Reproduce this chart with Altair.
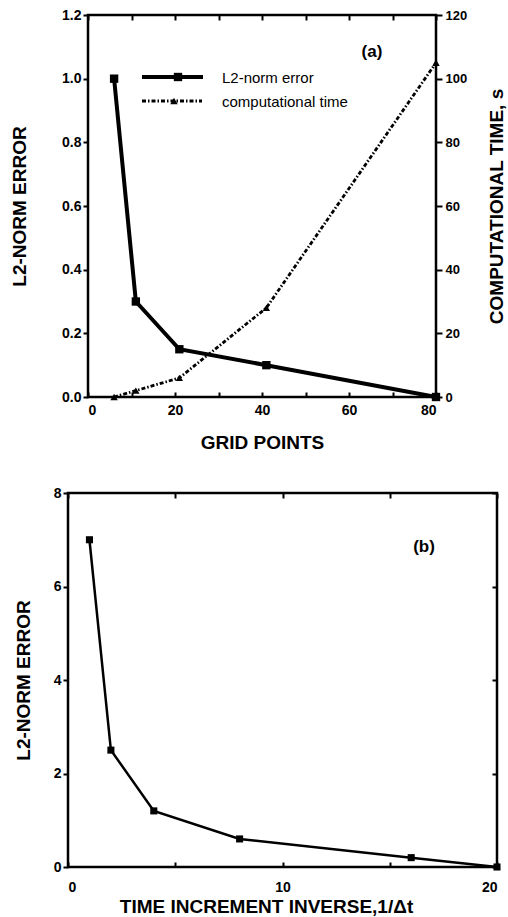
import altair as alt
import pandas as pd

# ---------------- data ----------------
# panel (a)
grid_points = [6, 11, 21, 41, 80]
l2_error_a = [1.0, 0.30, 0.15, 0.10, 0.0]
comp_time = [0, 2, 6, 28, 105]
# panel (b)
inv_dt = [1, 2, 4, 8, 16, 20]
l2_error_b = [7.0, 2.5, 1.2, 0.6, 0.2, 0.0]

series_names = ["L2-norm error", "computational time"]
panel_labels = ["(a)", "(b)"]

FONT = "Liberation Sans"

df_a = pd.DataFrame({"gp": grid_points, "err": l2_error_a, "time": comp_time})
df_b = pd.DataFrame({"inv": inv_dt, "err": l2_error_b})
df_leg = pd.DataFrame({"series": series_names})
df_la = pd.DataFrame({"t": [panel_labels[0]]})
df_lb = pd.DataFrame({"t": [panel_labels[1]]})

ax_style = dict(
    labelFont=FONT, labelFontSize=14, labelFontWeight="bold", labelColor="black",
    tickColor="black", tickWidth=2, titleFont=FONT, titleFontSize=19,
    titleFontWeight="bold", titleColor="black", domain=False, grid=False,
)
in_style = dict(labels=False, domain=False, grid=False, tickColor="black",
                tickWidth=2, tickSize=5, offset=-5)

TIME_DASH = [4, 2, 1.5, 2]

# ---------------- panel (a) ----------------
sx_a = alt.Scale(domain=[0, 80], nice=False)
x_a_bot = alt.X("gp:Q", scale=sx_a, title="GRID  POINTS",
                axis=alt.Axis(orient="bottom", values=list(range(0, 81, 10)),
                              labelExpr="datum.value % 20 == 0 ? datum.label : ''",
                              tickSize=5, offset=-5, labelPadding=6, titlePadding=16,
                              **ax_style))
x_a_top = alt.X("gp:Q", scale=sx_a, title=None,
                axis=alt.Axis(orient="top", values=list(range(0, 81, 10)), **in_style))
y_err = alt.Y("err:Q", scale=alt.Scale(domain=[0, 1.2], nice=False), title="L2-NORM  ERROR",
              axis=alt.Axis(orient="left", values=[0, 0.2, 0.4, 0.6, 0.8, 1.0, 1.2],
                            format=".1f", tickSize=5, labelPadding=2, titlePadding=32,
                            **ax_style))
y_time = alt.Y("time:Q", scale=alt.Scale(domain=[0, 120], nice=False),
               title="COMPUTATIONAL  TIME,  s",
               axis=alt.Axis(orient="right", values=list(range(0, 121, 20)),
                             tickSize=6, labelPadding=3, titlePadding=21,
                             titleAngle=270, titleBaseline="top",
                             **{**ax_style, "labelFontSize": 13}))

base_err = alt.Chart(df_a).encode(x=x_a_bot, y=y_err)
err_line = base_err.mark_line(color="black", strokeWidth=4)
err_pts = base_err.mark_point(shape="square", filled=True, color="black", size=70, opacity=1)

# legend (drawn inside the plot, top-left)
leg0 = alt.Chart(df_leg).transform_filter(alt.datum.series == series_names[0])
leg1 = alt.Chart(df_leg).transform_filter(alt.datum.series == series_names[1])
leg_rule0 = leg0.mark_rule(color="black", strokeWidth=4).encode(
    x=alt.value(54), x2=alt.value(115), y=alt.value(62))
leg_pt0 = leg0.mark_point(shape="square", filled=True, color="black", size=70, opacity=1).encode(
    x=alt.value(90), y=alt.value(62))
leg_txt0 = leg0.mark_text(font=FONT, fontSize=15, color="black", align="left", baseline="middle").encode(
    text="series:N", x=alt.value(134), y=alt.value(63))
leg_rule1 = leg1.mark_rule(color="black", strokeWidth=2.8, strokeDash=TIME_DASH).encode(
    x=alt.value(54), x2=alt.value(114), y=alt.value(86))
leg_pt1 = leg1.mark_point(shape="triangle-up", filled=True, color="black", size=55, opacity=1).encode(
    x=alt.value(86), y=alt.value(86))
leg_txt1 = leg1.mark_text(font=FONT, fontSize=15, color="black", align="left", baseline="middle").encode(
    text="series:N", x=alt.value(134), y=alt.value(87))

label_a = alt.Chart(df_la).mark_text(font=FONT, fontSize=17, fontWeight="bold", color="black",
                                     align="center", baseline="middle").encode(
    text="t:N", x=alt.value(284), y=alt.value(37))

err_group = alt.layer(err_line, err_pts, leg_rule0, leg_pt0, leg_txt0,
                      leg_rule1, leg_pt1, leg_txt1, label_a)

base_time = alt.Chart(df_a).encode(x=x_a_top, y=y_time)
time_line = base_time.mark_line(color="black", strokeWidth=2.8, strokeDash=TIME_DASH)
time_pts = base_time.mark_point(shape="triangle-up", filled=True, color="black", size=55, opacity=1)
time_group = alt.layer(time_line, time_pts)

top = alt.layer(err_group, time_group).resolve_scale(y="independent").properties(
    width=348, height=382, view=alt.ViewBackground(stroke="black", strokeWidth=2.5))

# invisible spacer that shifts panel (a) to the right of panel (b)
spacer = alt.Chart(df_la).mark_point(opacity=0, size=0).properties(
    width=20, height=382, view=alt.ViewBackground(stroke="transparent", strokeWidth=0))

top_row = alt.hconcat(spacer, top, spacing=0, bounds="flush")

# ---------------- panel (b) ----------------
sx_b = alt.Scale(domain=[0, 20], nice=False)
sy_b = alt.Scale(domain=[0, 8], nice=False)
x_b_bot = alt.X("inv:Q", scale=sx_b, title="TIME  INCREMENT  INVERSE,1/Δt",
                axis=alt.Axis(orient="bottom", values=[0, 5, 10, 15, 20],
                              labelExpr="datum.value % 10 == 0 ? datum.label : ''",
                              tickSize=5, offset=-5, labelPadding=13, titlePadding=3,
                              titleX=198, **ax_style))
y_b_left = alt.Y("err:Q", scale=sy_b, title="L2-NORM  ERROR",
                 axis=alt.Axis(orient="left", values=[0, 2, 4, 6, 8], format="d",
                               tickSize=5, labelPadding=2, titlePadding=20, **ax_style))
x_b_top = alt.X("inv:Q", scale=sx_b, title=None,
                axis=alt.Axis(orient="top", values=[0, 5, 10, 15, 20], **in_style))
y_b_right = alt.Y("err:Q", scale=sy_b, title=None,
                  axis=alt.Axis(orient="right", values=[0, 2, 4, 6, 8], **in_style))

b_line = alt.Chart(df_b).mark_line(color="black", strokeWidth=2.5).encode(x=x_b_bot, y=y_b_left)
b_pts = alt.Chart(df_b).mark_point(shape="square", filled=True, color="black", size=50, opacity=1).encode(
    x=x_b_top, y=y_b_right)
label_b = alt.Chart(df_lb).mark_text(font=FONT, fontSize=17, fontWeight="bold", color="black",
                                     align="center", baseline="middle").encode(
    text="t:N", x=alt.value(356), y=alt.value(54))

bottom = alt.layer(b_line, b_pts, label_b).properties(
    width=429, height=374, view=alt.ViewBackground(stroke="black", strokeWidth=2.5))

# the nested row has no flush size of its own, so the spacing spans panel (a) + gap
chart = alt.vconcat(top_row, bottom, spacing=478, bounds="flush").properties(
    padding={"left": 9, "top": 6, "right": 0, "bottom": 0}
)

chart.save("out.html", embed_options={"renderer": "svg", "actions": False})
